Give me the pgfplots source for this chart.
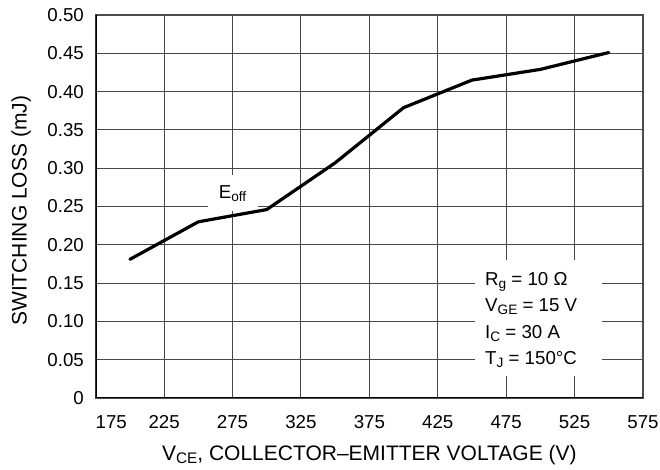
\documentclass[border=0pt]{standalone}
\usepackage{fontspec}
\setmainfont{Liberation Sans}
\usepackage{graphicx}
\usepackage{pgfplots}
\pgfplotsset{compat=1.18}
\newcommand{\tickfont}{\fontsize{18.7bp}{22bp}\selectfont}
\newcommand{\labfont}{\fontsize{21bp}{25bp}\selectfont}
\newcommand{\sub}[1]{\raisebox{-0.15em}{\scalebox{0.73}{#1}}}
\begin{document}
\begin{tikzpicture}
\begin{axis}[
  scale only axis,
  width=547.3bp, height=383bp,
  xmin=175, xmax=575, ymin=0, ymax=0.5,
  enlargelimits=false,
  xtick={175,225,275,325,375,425,475,525,575},
  xticklabels={\hphantom{175}175,225,275,325,375,425,475,525,575},
  ytick={0,0.05,0.10,0.15,0.20,0.25,0.30,0.35,0.40,0.45,0.50},
  yticklabels={0,0.05,0.10,0.15,0.20,0.25,0.30,0.35,0.40,0.45,0.50},
  major tick length=0pt,
  tick style={draw=none},
  xticklabel style={font=\tickfont, inner sep=0pt, anchor=north},
  yticklabel style={font=\tickfont, inner sep=0pt, anchor=east},
  xticklabel shift=17bp,
  yticklabel shift=11.7bp,
  grid=major,
  major grid style={line width=1.1bp, draw=black!72},
  axis line style={line width=1.4bp, draw=black!70},
  xlabel={V\sub{CE}, COLLECTOR--EMITTER VOLTAGE (V)},
  ylabel={SWITCHING LOSS (mJ)},
  xlabel style={font=\labfont, inner sep=0pt, at={(axis description cs:0.5,0)}, anchor=north, yshift=-47bp},
  ylabel style={font=\labfont, inner sep=0pt, at={(axis description cs:-0.1261,0.4888)}, anchor=base, rotate=0},
]
\coordinate (ll) at (rel axis cs:0,0);
\coordinate (ur) at (rel axis cs:1,1);
% white boxes over the grid
\fill[white] (axis cs:452.2,0.1802) rectangle (axis cs:544.8,0.0287);
\node[fill=white, minimum width=50bp, minimum height=36bp, inner sep=0pt, font=\tickfont] at (axis cs:275,0.267) {E\sub{off}};
\node[anchor=base west, inner sep=0pt, align=left, font=\tickfont] at (axis cs:459.5,0.0431)
  {R\sub{g} = 10 Ω\\[4.5bp]V\sub{GE} = 15 V\\[4.5bp]I\sub{C} = 30 A\\[4.5bp]T\sub{J} = 150°C};
\addplot[black, line width=3.2bp, line join=round, line cap=round] coordinates {
  (200,0.181) (250,0.230) (300,0.246) (350,0.307) (400,0.379) (450,0.415) (500,0.429) (550,0.451)
};
\draw[black, line width=2.4bp] (rel axis cs:0,1) -- (rel axis cs:0,0) -- (rel axis cs:1,0);
\end{axis}
\pgfresetboundingbox
\path[use as bounding box] ([xshift=-95.7bp,yshift=-72bp]ll) rectangle ([xshift=17bp,yshift=15bp]ur);
\end{tikzpicture}
\end{document}
